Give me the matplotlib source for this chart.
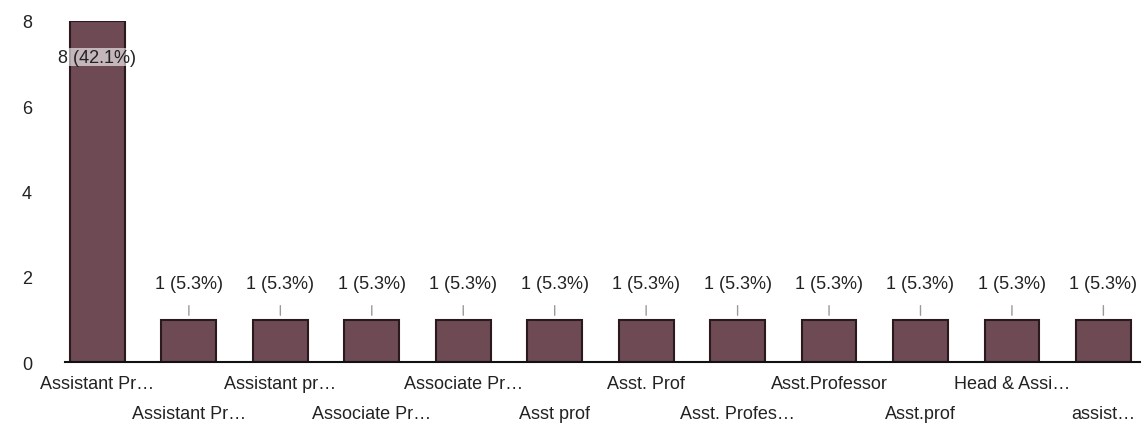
import matplotlib.pyplot as plt

categories = ["Assistant Pr…", "Assistant Pr…", "Assistant pr…", "Associate Pr…",
              "Associate Pr…", "Asst prof", "Asst. Prof", "Asst. Profes…",
              "Asst.Professor", "Asst.prof", "Head & Assi…", "assist…"]
counts = [8, 1, 1, 1, 1, 1, 1, 1, 1, 1, 1, 1]
percents = [42.1, 5.3, 5.3, 5.3, 5.3, 5.3, 5.3, 5.3, 5.3, 5.3, 5.3, 5.3]

plt.rcParams['font.family'] = ['Liberation Sans', 'DejaVu Sans']
fs = 13

fig = plt.figure(figsize=(11.48, 4.35), dpi=100)
ax = fig.add_axes([0.057, 0.165, 0.936, 0.785])

x = list(range(len(counts)))
ax.bar(x, counts, width=0.6, color="#6e4a55", edgecolor="#2a1a1e", linewidth=1.5)

for i, (c, p) in enumerate(zip(counts, percents)):
    txt = f"{c} ({p}%)"
    if c == max(counts):
        ax.text(i, c - 0.85, txt, ha="center", va="center", fontsize=fs, color="#222222",
                bbox=dict(facecolor="white", edgecolor="none", pad=0.3, alpha=0.6))
    else:
        ax.annotate(txt, xy=(i, c + 0.1), xytext=(i, c + 0.85), ha="center", va="center",
                    fontsize=fs, color="#222222",
                    arrowprops=dict(arrowstyle="-", color="#999999", lw=1, shrinkA=8, shrinkB=0))

ax.set_xlim(-0.35, len(counts) - 0.6)
ax.set_ylim(0, 8)
ax.set_yticks([0, 2, 4, 6, 8])
ax.tick_params(axis="y", length=0, labelsize=fs, labelcolor="#222222", pad=24)
ax.set_xticks(x)
ax.set_xticklabels([])
ax.tick_params(axis="x", length=0)

for i, lab in enumerate(categories):
    off = -0.3 if i % 2 == 0 else -1.0
    ax.text(i, off, lab, ha="center", va="top", fontsize=fs, color="#222222",
            transform=ax.transData, clip_on=False)

for s in ["top", "right", "left"]:
    ax.spines[s].set_visible(False)
ax.spines["bottom"].set_color("#111111")
ax.spines["bottom"].set_linewidth(1.5)

fig.savefig("out.png")
